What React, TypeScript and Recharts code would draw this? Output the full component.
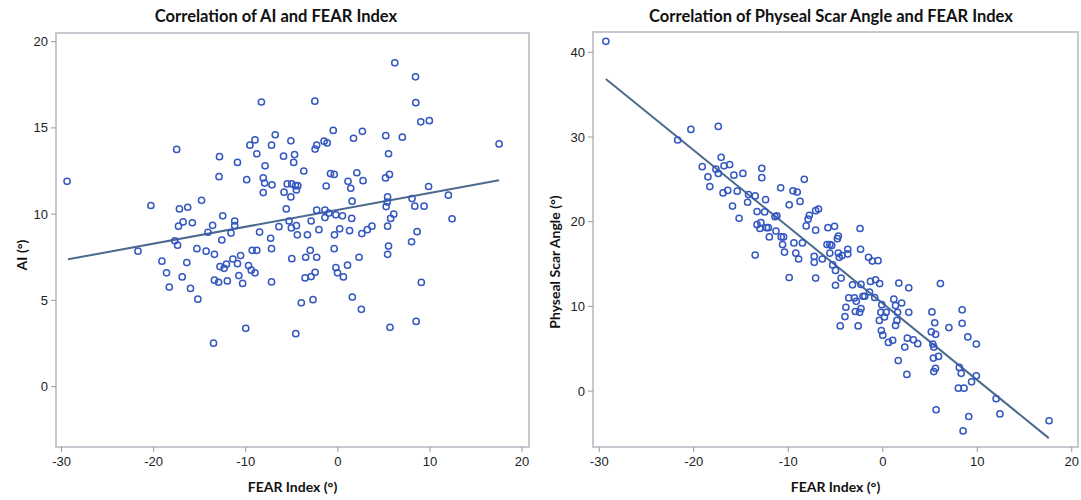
import React from 'react';
import { ScatterChart, Scatter, XAxis, YAxis, ReferenceLine, ReferenceArea } from 'recharts';

// FEAR index vs AI (left panel)
const aiFear = [
  -29.4, -20.3, -17.5, -17.2, -16.3, -14.8, -17.3, -16.8, -15.8, -17.7, -17.4, -14.1, -13.6, -12.6, -12.5, -12.9, -12.85, -11.2, -11.2, -11.6,
  -10.9, -9.9, -9.55, -9.0, -8.8, -8.3, -7.9, -8.1, -7.95, -8.1, -7.15, -7.2, -6.8, -8.5, -7.3, -6.4, -5.9, -5.84, -5.6, -5.5,
  -5.1, -4.8, -4.7, -5.0, -5.1, -5.3, -5.05, -4.5, -4.6, -4.35, -4.5, -4.4, -3.7, -3.3, -2.9, -2.5, -2.47, -2.3, -2.3, -2.06,
  -1.5, -1.16, -1.4, -1.27, -1.4, -0.97, -0.8, -0.4, -0.5, -0.37, -0.22, 0.2, 0.5, 1.1, 1.4, 1.5, 1.55, 1.7, 2.06, 1.27,
  2.66, 2.73, 2.6, 3.2, 3.7, 5.2, 5.5, 5.17, 5.6, 5.4, 5.36, 5.24, 6.07, 5.73, 5.4, 6.18, 7.0, 8.05, 8.35, 8.43,
  8.46, 9.0, 9.93, 9.36, 9.85, 8.6, 12.0, 12.4, 17.5, 5.5, 8.0, -0.4, -3.0, -7.2, -9.3, -8.8, -14.3, -15.3, -21.7,
  -19.1, -18.6, -18.3, -16.9, -16.4, -16.0, -15.2, -13.4, -12.8, -12.1, -12.35, -13.4, -12.95, -12.0, -13.5, -11.4, -10.9, -10.56, -10.75, -10.34,
  -9.7, -9.4, -9.0, -7.2, -10.0, -5.0, -3.5, -2.3, -3.56, -2.9, -2.47, -3.97, -2.7, -4.57, -0.22, -0.04, 0.6, 1.05, 2.3, 1.57,
  2.55, 5.4, 5.66, 8.5, 9.06,
];
const aiValues = [
  11.9, 10.5, 13.75, 10.3, 10.4, 10.8, 9.3, 9.55, 9.5, 8.45, 8.2, 8.95, 9.35, 8.5, 9.9, 12.17, 13.33, 9.6, 9.33, 8.9,
  13.0, 12.0, 14.0, 14.3, 13.5, 16.5, 12.8, 12.1, 11.8, 11.25, 11.7, 14.0, 14.6, 8.96, 8.6, 9.27, 13.36, 11.27, 10.3, 11.75,
  14.25, 13.0, 13.45, 11.75, 11.0, 9.6, 9.2, 9.33, 11.65, 11.65, 11.4, 8.8, 12.5, 8.8, 9.6, 16.55, 13.77, 14.0, 10.23, 9.1,
  14.23, 14.13, 10.23, 11.63, 9.8, 10.06, 12.35, 12.3, 14.85, 8.8, 9.96, 9.15, 9.9, 11.9, 11.5, 9.75, 10.75, 14.4, 12.4, 9.04,
  14.8, 11.94, 8.87, 9.1, 9.3, 14.55, 13.5, 12.1, 12.3, 11.0, 10.7, 10.44, 10.0, 9.75, 9.3, 18.77, 14.46, 10.9, 10.46, 17.96,
  16.46, 15.35, 15.42, 10.46, 11.6, 8.98, 11.1, 9.73, 14.07, 8.15, 8.4, 8.0, 7.9, 8.0, 7.9, 7.9, 7.85, 8.0, 7.85,
  7.27, 6.6, 5.77, 6.36, 7.19, 5.69, 5.07, 7.67, 6.96, 7.1, 6.86, 6.17, 6.05, 6.13, 2.52, 7.4, 7.13, 7.6, 6.44, 5.98,
  7.02, 6.75, 6.6, 6.07, 3.38, 7.42, 7.5, 7.5, 6.3, 6.38, 6.63, 4.86, 5.04, 3.07, 6.9, 6.6, 6.36, 7.04, 7.5, 5.19,
  4.48, 7.67, 3.44, 3.78, 6.04,
];

// FEAR index vs physeal scar angle (right panel)
const scarFear = [
  -29.3, -21.7, -20.3, -17.4, -19.1, -18.5, -18.3, -17.65, -17.4, -17.1, -16.8, -16.2, -15.75, -16.4, -16.9, -15.4, -15.9, -15.2, -14.8, -14.2,
  -13.5, -14.3, -12.8, -12.8, -12.4, -13.3, -12.5, -13.3, -12.9, -13.0, -12.3, -12.1, -12.0, -11.3, -10.75, -10.5, -11.2, -11.4, -10.8, -9.9,
  -9.5, -9.05, -8.75, -8.3, -7.1, -6.8, -7.77, -7.9, -8.1, -7.1, -9.4, -8.5, -10.6, -5.8, -5.1, -4.8, -4.7, -2.4, -5.9, -5.6,
  -5.4, -3.7, -2.35,
  -13.5, -10.4, -8.9, -9.2, -9.9, -7.25, -7.25, -7.1, -6.4, -5.3, -5.0, -5.0, -4.4, -4.6, -4.3, -3.7, -5.6, -4.7, -3.2, -3.6,
  -3.0, -2.8, -3.9, -4.0, -4.5, -2.9, -2.45, -2.3, -2.1, -1.9, -2.6, -2.3, -1.5, -1.1, -0.5, -1.3, -0.76, -0.33, -1.4, -0.85,
  -0.1, -0.2, 0.36, 0.18, -0.36, -0.15, 0.0, 0.6, 1.05, 1.17, 2.0, 1.35, 1.57, 1.35, 1.5, 1.7, 2.75, 2.75, 1.64, 2.33,
  2.6, 3.25, 3.7, 2.55, 5.2, 5.5, 5.14, 5.6, 5.3, 5.4, 5.36, 5.9, 6.1, 5.58, 5.4, 5.65, 7.0, 8.4, 8.4, 9.0,
  9.9, 8.1, 8.3, 8.0, 8.6, 9.4, 9.9, 9.1, 8.5, 12.0, 12.4, 17.6,
];
const scarAngle = [
  41.3, 29.65, 30.9, 31.25, 26.5, 25.3, 24.15, 26.2, 25.7, 27.6, 26.6, 26.75, 25.5, 23.7, 23.4, 23.6, 21.85, 20.4, 25.7, 23.2,
  23.05, 22.3, 26.3, 25.2, 22.6, 21.2, 21.15, 19.65, 19.9, 19.2, 19.3, 19.3, 18.2, 18.9, 18.2, 18.2, 20.7, 20.6, 24.0, 22.0,
  23.65, 23.5, 22.4, 25.0, 21.3, 21.5, 20.75, 20.3, 19.5, 19.0, 17.5, 17.5, 17.3, 19.3, 19.45, 18.0, 18.3, 19.2, 17.3, 17.3,
  17.2, 16.75, 16.75,
  16.06, 16.4, 15.6, 16.3, 13.4, 15.9, 15.2, 13.35, 15.6, 14.9, 14.25, 12.5, 13.35, 15.8, 16.0, 16.2, 16.3, 16.3, 12.55, 11.0,
  11.0, 10.6, 9.9, 8.8, 7.7, 9.4, 9.3, 9.75, 11.2, 11.2, 7.7, 12.6, 15.8, 15.35, 15.4, 12.95, 13.15, 12.7, 11.7, 11.05,
  10.2, 9.3, 9.3, 8.75, 8.35, 7.15, 6.6, 5.75, 6.0, 10.85, 10.4, 10.1, 9.3, 7.75, 8.35, 12.75, 12.2, 9.3, 3.6, 5.2,
  6.25, 6.05, 5.6, 1.97, 9.35, 8.07, 7.0, 6.7, 5.55, 5.2, 3.9, 4.1, 12.7, 2.7, 2.3, -2.2, 7.5, 9.6, 8.0, 6.4,
  5.55, 2.8, 2.1, 0.35, 0.35, 1.1, 1.8, -3.0, -4.7, -0.9, -2.7, -3.5,
];

// fitted lines, end points
const aiFitX = [-29.3, 17.5];
const aiFitY = [7.38, 11.96];
const scarFitX = [-29.3, 17.57];
const scarFitY = [36.86, -5.55];

const fearTicks = [-30, -20, -10, 0, 10, 20];
const aiTicks = [0, 5, 10, 15, 20];
const scarTicks = [0, 10, 20, 30, 40];

const aiData = aiFear.map((x, i) => ({ x, y: aiValues[i] }));
const scarData = scarFear.map((x, i) => ({ x, y: scarAngle[i] }));

const FONT = 'Lato, "Liberation Sans", sans-serif';
const TICK_FONT = '"Liberation Sans Narrow", "Liberation Sans", sans-serif';
const DOT = '#3458c0';
const FIT = '#4b6a8e';
const FRAME = '#c6c9cf';

const Ring = (props: any) => (
  <circle cx={props.cx} cy={props.cy} r={3.1} fill="none" stroke={DOT} strokeWidth={1.5} />
);

const tickStyle = { fill: '#222', fontSize: 13, fontFamily: TICK_FONT };

type PanelProps = {
  data: { x: number; y: number }[];
  xDomain: [number, number];
  yDomain: [number, number];
  yTicks: number[];
  fitX: number[];
  fitY: number[];
  width: number;
  margin: { top: number; right: number; bottom: number; left: number };
  yAxisWidth: number;
};

const Panel = ({ data, xDomain, yDomain, yTicks, fitX, fitY, width, margin, yAxisWidth }: PanelProps) => (
  <ScatterChart width={width} height={500} margin={margin}>
    <XAxis
      type="number"
      dataKey="x"
      domain={xDomain}
      ticks={fearTicks}
      allowDataOverflow
      height={30}
      tick={tickStyle}
      tickSize={5}
      tickMargin={5}
      axisLine={{ stroke: FRAME, strokeWidth: 2 }}
      tickLine={{ stroke: '#999' }}
      label={{ value: 'FEAR Index (°)', position: 'bottom', offset: 5, style: { fontFamily: FONT, fontWeight: 700, fontSize: 14, fill: '#111' } }}
    />
    <YAxis
      type="number"
      dataKey="y"
      domain={yDomain}
      ticks={yTicks}
      allowDataOverflow
      width={yAxisWidth}
      tick={tickStyle}
      tickSize={5}
      tickMargin={3}
      axisLine={{ stroke: FRAME, strokeWidth: 2 }}
      tickLine={{ stroke: '#999' }}
    />
    <ReferenceArea x1={xDomain[0]} x2={xDomain[1]} y1={yDomain[0]} y2={yDomain[1]} fill="none" stroke={FRAME} strokeWidth={2} fillOpacity={0} />
    <ReferenceLine
      segment={[{ x: fitX[0], y: fitY[0] }, { x: fitX[1], y: fitY[1] }]}
      stroke={FIT}
      strokeWidth={2}
    />
    <Scatter data={data} shape={Ring} isAnimationActive={false} />
  </ScatterChart>
);

const titleStyle: React.CSSProperties = {
  position: 'absolute',
  top: 6,
  fontFamily: FONT,
  fontWeight: 700,
  fontSize: 16.5,
  color: '#111',
  whiteSpace: 'nowrap',
  transform: 'translateX(-50%)',
};

const yLabelStyle: React.CSSProperties = {
  position: 'absolute',
  fontFamily: FONT,
  fontWeight: 700,
  fontSize: 14,
  color: '#111',
  whiteSpace: 'nowrap',
  transform: 'translate(-50%, -50%) rotate(-90deg)',
};

export default function App() {
  return (
    <div style={{ position: 'absolute', left: 0, top: 0, width: 1081, height: 500, background: '#fff', overflow: 'hidden' }}>
      <div style={{ ...titleStyle, left: 276 }}>Correlation of AI and FEAR Index</div>
      <div style={{ ...titleStyle, left: 831 }}>Correlation of Physeal Scar Angle and FEAR Index</div>
      <div style={{ position: 'absolute', left: 0, top: 0 }}>
        <Panel
          data={aiData}
          xDomain={[-30.6, 20.75]}
          yDomain={[-3.5, 20.5]}
          yTicks={aiTicks}
          fitX={aiFitX}
          fitY={aiFitY}
          width={540}
          margin={{ top: 33, right: 11, bottom: 23, left: 0 }}
          yAxisWidth={56}
        />
      </div>
      <div style={{ position: 'absolute', left: 540, top: 0 }}>
        <Panel
          data={scarData}
          xDomain={[-30.66, 20.66]}
          yDomain={[-6.6, 42.4]}
          yTicks={scarTicks}
          fitX={scarFitX}
          fitY={scarFitY}
          width={541}
          margin={{ top: 32, right: 3, bottom: 23, left: 0 }}
          yAxisWidth={53}
        />
      </div>
      <div style={{ ...yLabelStyle, left: 21, top: 255 }}>AI (°)</div>
      <div style={{ ...yLabelStyle, left: 554, top: 262 }}>Physeal Scar Angle (°)</div>
    </div>
  );
}
